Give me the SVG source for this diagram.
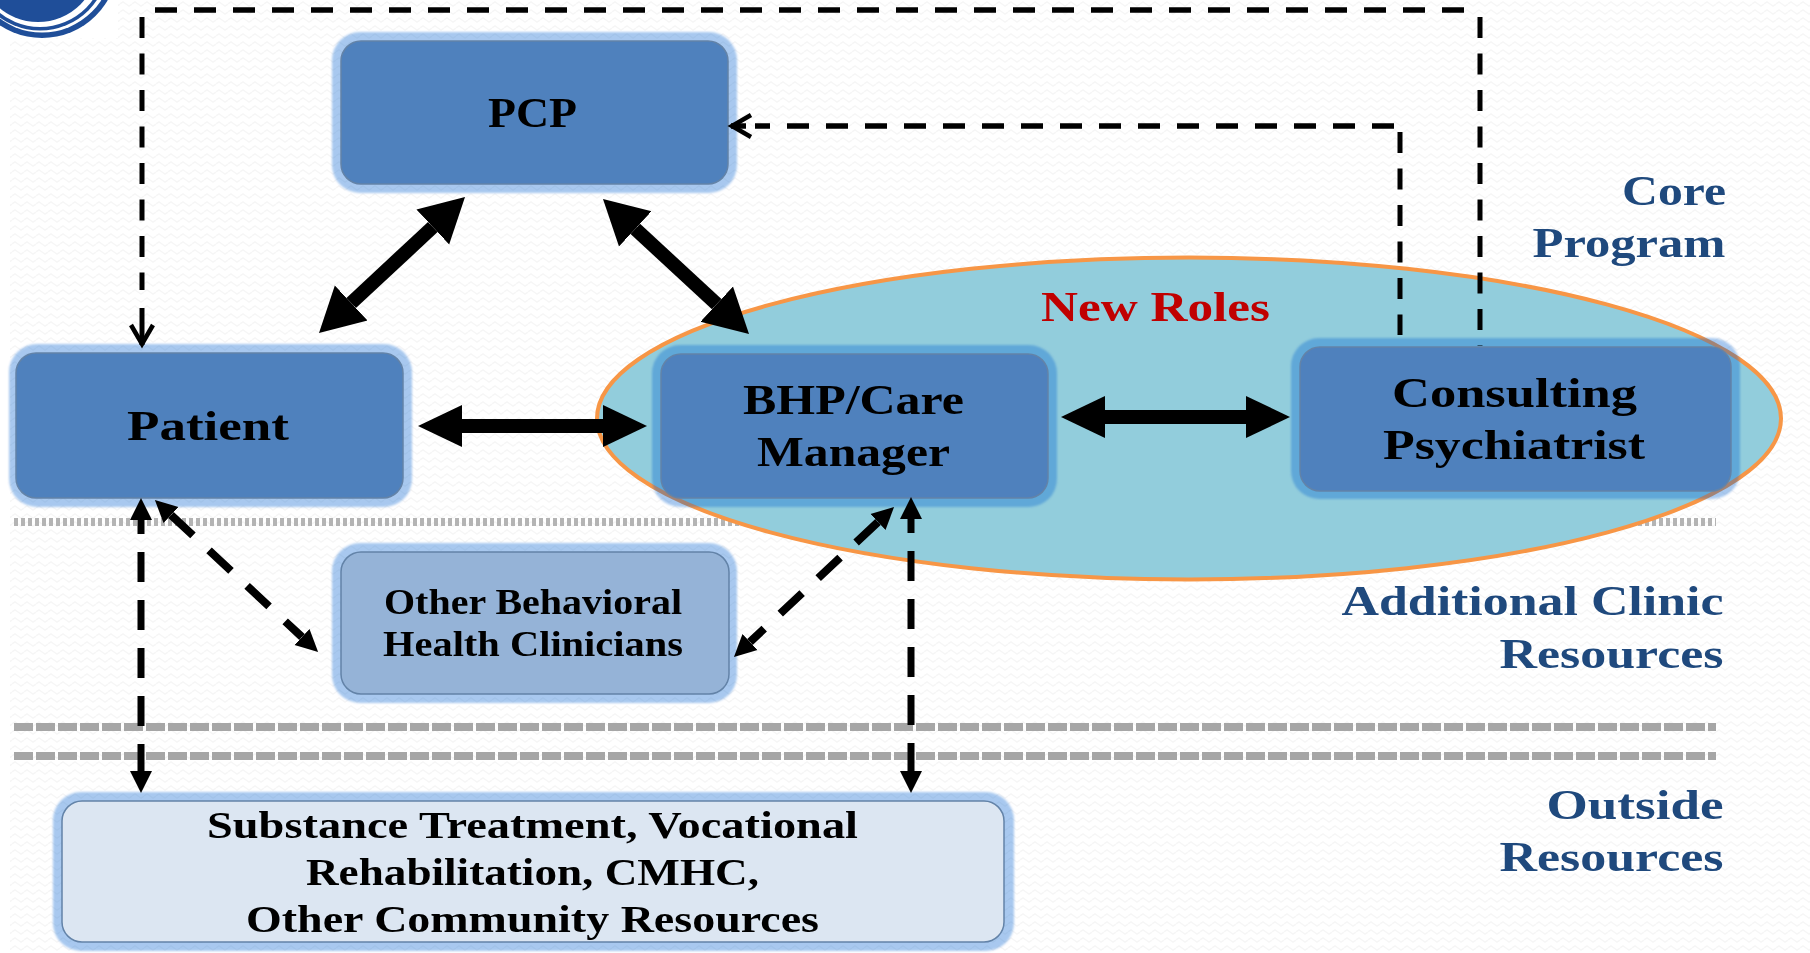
<svg xmlns="http://www.w3.org/2000/svg" width="1810" height="953" viewBox="0 0 1810 953">
<style>
text{font-family:"Liberation Serif","Times New Roman",serif;font-weight:700;text-anchor:middle;fill:#000}
.side{fill:#1f497d;font-size:42px}
.glow{fill:#0060d0;fill-opacity:.34;filter:url(#soft)}
.box{stroke:#6383a8;stroke-width:1.500}
.mid{fill:#4f81bd}
.lite{fill:#95b3d7}
.pale{fill:#dce6f2}
.n42{font-size:43px}
.n36{font-size:36px}
.n38{font-size:38px}
.thick{fill:none;stroke:#000;stroke-width:14}
.dash{fill:none;stroke:#000;stroke-width:5.500;stroke-dasharray:22 17}
.dashv{fill:none;stroke:#000;stroke-width:5;stroke-dasharray:21 15.500}
.vert{fill:none;stroke:#000;stroke-width:7;stroke-dasharray:30 18}
.diag{fill:none;stroke:#000;stroke-width:8;stroke-dasharray:30 22}
.sep{fill:none;stroke:#a6a6a6;stroke-width:8}
</style>
<defs>
<pattern id="wave" width="12" height="8" patternUnits="userSpaceOnUse">
<path d="M0,4 L3,2 L6,4 L9,6 L12,4" fill="none" stroke="#f6f6f6" stroke-width="1.500"/>
</pattern>
<filter id="soft" x="-5%" y="-8%" width="110%" height="116%"><feGaussianBlur stdDeviation="1.200"/></filter>
<filter id="image-soft" x="0" y="0" width="100%" height="100%" color-interpolation-filters="sRGB"><feGaussianBlur stdDeviation="0.600"/></filter>
<marker id="hH" markerUnits="userSpaceOnUse" markerWidth="46" markerHeight="44" viewBox="0 -22 46 44" refX="0" refY="0" orient="auto-start-reverse"><path d="M0,-21 L44,0 L0,21 z" fill="#000"/></marker>
<marker id="hD" markerUnits="userSpaceOnUse" markerWidth="46" markerHeight="50" viewBox="0 -25 46 50" refX="0" refY="0" orient="auto-start-reverse"><path d="M0,-24 L44,0 L0,24 z" fill="#000"/></marker>
<marker id="hS" markerUnits="userSpaceOnUse" markerWidth="24" markerHeight="24" viewBox="0 -12 24 24" refX="0" refY="0" orient="auto-start-reverse"><path d="M0,-11 L22,0 L0,11 z" fill="#000"/></marker>
<marker id="hO" markerUnits="userSpaceOnUse" markerWidth="30" markerHeight="30" viewBox="-24 -15 30 30" refX="0" refY="0" orient="auto"><path d="M-20,-11 L-1,0 L-20,11" fill="none" stroke="#000" stroke-width="4.500"/></marker>
</defs>
<rect width="1810" height="953" fill="#fff"/>
<g filter="url(#image-soft)">
<rect x="10" y="0" width="1800" height="953" fill="url(#wave)"/>
<g id="logo">
<rect x="0" y="0" width="118" height="38" fill="#fff"/>
<circle cx="42" cy="-38" r="76" fill="#1f4e99"/>
<circle cx="42" cy="-38" r="70.500" fill="#fff"/>
<circle cx="40" cy="-38" r="68.500" fill="#1f4e99"/>
<circle cx="40" cy="-38" r="65" fill="#fff"/>
<circle cx="38" cy="-38" r="60" fill="#1f4e99"/>
</g>
<g id="separators">
<path class="sep" d="M14,522 H1716" stroke-dasharray="4 3" style="stroke:#b4b4b4"/>
<path class="sep" d="M14,727 H1716" stroke-dasharray="19 3"/>
<path class="sep" d="M14,756 H1716" stroke-dasharray="19 3"/>
</g>
<g id="new-roles">
<ellipse cx="1189" cy="418.500" rx="592" ry="161" fill="#92cddc" stroke="#f79646" stroke-width="4"/>
<text x="1155.500" y="321" font-size="43" textLength="229" lengthAdjust="spacingAndGlyphs" style="fill:#c00000">New Roles</text>
</g>
<g id="pcp">
<rect class="glow" x="332" y="32" width="405" height="161" rx="28"/>
<rect class="box mid" x="341" y="41" width="387" height="143" rx="20"/>
<text class="n42" x="532.500" y="127" textLength="89" lengthAdjust="spacingAndGlyphs">PCP</text>
</g>
<g id="patient">
<rect class="glow" x="9" y="344" width="403" height="163" rx="28"/>
<rect class="box mid" x="16" y="353" width="387" height="145" rx="20"/>
<text class="n42" x="208" y="440" textLength="162" lengthAdjust="spacingAndGlyphs">Patient</text>
</g>
<g id="bhp">
<rect class="glow" x="652" y="345" width="405" height="162" rx="28"/>
<rect class="box mid" x="661" y="354" width="387" height="144" rx="20"/>
<text class="n42" x="853.500" y="414" textLength="221" lengthAdjust="spacingAndGlyphs">BHP/Care</text>
<text class="n42" x="853.500" y="466" textLength="193" lengthAdjust="spacingAndGlyphs">Manager</text>
</g>
<g id="psychiatrist">
<rect class="glow" x="1291" y="338" width="449" height="161" rx="28"/>
<rect class="box mid" x="1300" y="347" width="431" height="144" rx="20"/>
<text class="n42" x="1514.500" y="407" textLength="245" lengthAdjust="spacingAndGlyphs">Consulting</text>
<text class="n42" x="1514" y="459" textLength="262" lengthAdjust="spacingAndGlyphs">Psychiatrist</text>
</g>
<g id="other-clinicians">
<rect class="glow" x="332" y="543" width="405" height="160" rx="28"/>
<rect class="box lite" x="341" y="552" width="388" height="142" rx="20"/>
<text class="n36" x="533" y="614" textLength="298" lengthAdjust="spacingAndGlyphs">Other Behavioral</text>
<text class="n36" x="533" y="656" textLength="300" lengthAdjust="spacingAndGlyphs">Health Clinicians</text>
</g>
<g id="outside">
<rect class="glow" x="53" y="792" width="961" height="159" rx="28"/>
<rect class="box pale" x="62" y="801" width="942" height="141" rx="20"/>
<text class="n38" x="532.500" y="838" textLength="651" lengthAdjust="spacingAndGlyphs">Substance Treatment, Vocational</text>
<text class="n38" x="532.500" y="885" textLength="453" lengthAdjust="spacingAndGlyphs">Rehabilitation, CMHC,</text>
<text class="n38" x="532.500" y="932" textLength="573" lengthAdjust="spacingAndGlyphs">Other Community Resources</text>
</g>
<g id="connectors">
<path class="thick" d="M351.200,303 L432.800,227" marker-start="url(#hD)" marker-end="url(#hD)"/>
<path class="thick" d="M635.300,228.900 L716.700,304.100" marker-start="url(#hD)" marker-end="url(#hD)"/>
<path class="thick" d="M462,426 H603" marker-start="url(#hH)" marker-end="url(#hH)"/>
<path class="thick" d="M1105,417 H1246" marker-start="url(#hH)" marker-end="url(#hH)"/>
<path class="dash" d="M155,10 H1477"/>
<path class="dashv" d="M1480,17 V346"/>
<path class="dashv" d="M142,17 V290"/>
<path class="dashv" d="M142,308 V345" style="stroke-dasharray:none" marker-end="url(#hO)"/>
<path class="dash" d="M1394,126 H755"/>
<path class="dash" d="M746,126 H731" style="stroke-dasharray:none" marker-end="url(#hO)"/>
<path class="dashv" d="M1400,132 V335"/>
<path class="vert" d="M141,520 V771" stroke-dashoffset="16" marker-start="url(#hS)" marker-end="url(#hS)"/>
<path class="vert" d="M911,519 V771" stroke-dashoffset="16" marker-start="url(#hS)" marker-end="url(#hS)"/>
<path class="diag" d="M171,515 L302,637" marker-start="url(#hS)" marker-end="url(#hS)"/>
<path class="diag" d="M878,522 L750,642" marker-start="url(#hS)" marker-end="url(#hS)"/>
</g>
<g id="labels">
<text class="side" x="1674" y="205" textLength="104" lengthAdjust="spacingAndGlyphs">Core</text>
<text class="side" x="1629" y="257" textLength="193" lengthAdjust="spacingAndGlyphs">Program</text>
<text class="side" x="1532.500" y="615" textLength="382" lengthAdjust="spacingAndGlyphs">Additional Clinic</text>
<text class="side" x="1611.500" y="668" textLength="224" lengthAdjust="spacingAndGlyphs">Resources</text>
<text class="side" x="1635" y="819" textLength="177" lengthAdjust="spacingAndGlyphs">Outside</text>
<text class="side" x="1611.500" y="871" textLength="224" lengthAdjust="spacingAndGlyphs">Resources</text>
</g>
</g>
</svg>
